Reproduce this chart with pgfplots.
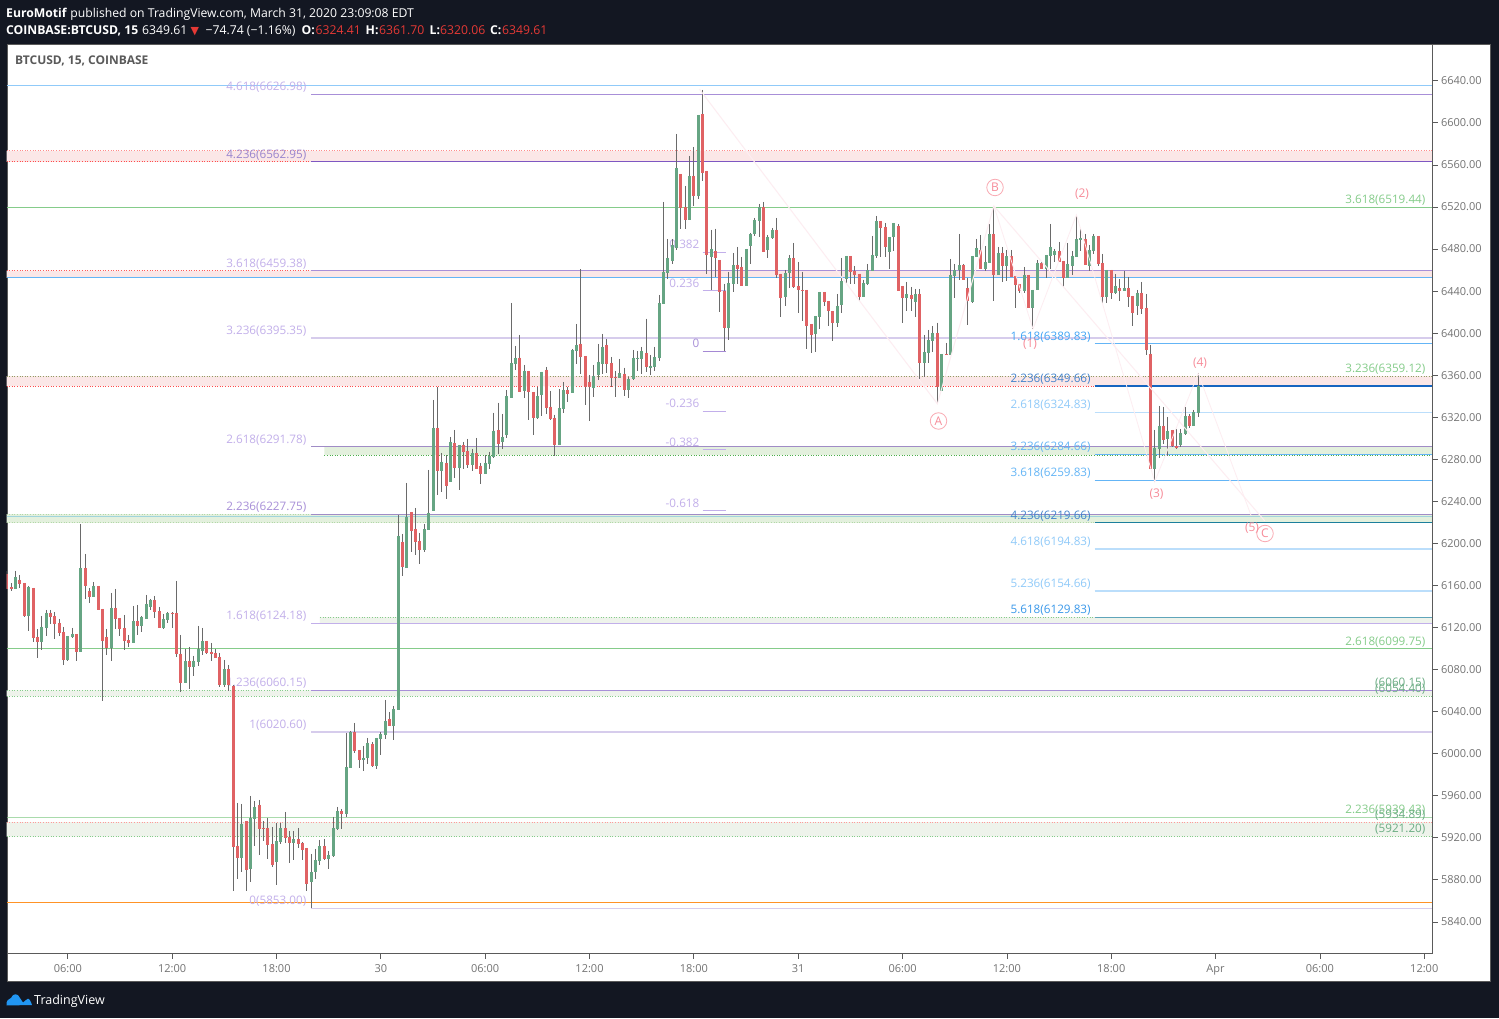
\documentclass[border=0pt]{standalone}
\usepackage{pgfplots}
\usepackage{pgfplotstable}
\usepackage{fontspec}
\pgfplotsset{compat=1.18}
\setmainfont{Open Sans}
\newfontfamily\dvs{DejaVu Sans}
\definecolor{bgd}{HTML}{131722}
\definecolor{cred}{HTML}{E06264}
\definecolor{cgrn}{HTML}{66A583}
\definecolor{wick}{HTML}{6A6A6A}
\definecolor{tick}{HTML}{5A5A5A}
\definecolor{pl}{HTML}{C2AFEA}
\definecolor{pm}{HTML}{A88FD8}
\definecolor{pk}{HTML}{9A85CE}
\definecolor{pd}{HTML}{7E57C2}
\definecolor{pll}{HTML}{D6CCEC}
\definecolor{gl}{HTML}{85CC8A}
\definecolor{gt}{HTML}{B2D8A8}
\definecolor{ol}{HTML}{8F9C62}
\definecolor{bl}{HTML}{64B5F6}
\definecolor{bd}{HTML}{1565C0}
\definecolor{bm}{HTML}{42A5F5}
\definecolor{bll}{HTML}{BBDEFB}
\definecolor{blt}{HTML}{90CAF9}
\definecolor{btl}{HTML}{A0D4DC}
\definecolor{teal2}{HTML}{1B7F9C}
\definecolor{zred}{HTML}{FBE7E7}
\definecolor{zgrn}{HTML}{E3F0DD}
\definecolor{zgl}{HTML}{EEF3EB}
\definecolor{wl}{HTML}{FDEDF1}
\definecolor{wt}{HTML}{F78C99}
\definecolor{upr}{HTML}{E53935}
\definecolor{tvb}{HTML}{2196F3}
\pgfplotstableread{
x o h l c
-86 6170.8 6173.3 6157.1 6157.1
-85 6158.7 6162.2 6154.9 6157.1
-83 6165.4 6170.1 6157.8 6161.6
-82 6162.5 6162.5 6130.2 6131.1
-80 6157.8 6157.8 6106.4 6110.2
-79 6111.2 6118.5 6091.2 6106.4
-76 6134.0 6136.8 6123.5 6130.2
-75 6131.1 6134.9 6109.3 6123.5
-74 6124.5 6128.3 6112.1 6115.0
-73 6115.9 6120.7 6084.5 6089.3
-70 6114.0 6114.0 6088.3 6096.9
-68 6176.8 6190.1 6147.3 6159.7
-67 6154.9 6157.8 6143.5 6149.2
-65 6159.7 6159.7 6136.8 6136.8
-64 6137.8 6137.8 6050.3 6107.4
-63 6111.2 6118.8 6094.0 6100.7
-61 6138.7 6156.8 6118.8 6128.3
-60 6129.2 6129.2 6112.1 6118.8
-59 6119.7 6132.1 6098.8 6107.4
-58 6108.3 6113.0 6101.7 6105.5
-56 6126.4 6141.6 6113.0 6121.6
-52 6146.4 6150.2 6129.2 6134.9
-51 6135.9 6139.7 6119.7 6119.7
-48 6134.0 6134.9 6119.7 6133.0
-47 6134.0 6164.4 6092.1 6095.0
-46 6095.0 6113.0 6058.9 6067.4
-44 6088.3 6101.7 6061.7 6082.6
-40 6107.4 6107.4 6095.0 6096.0
-39 6096.9 6105.5 6088.3 6095.0
-38 6096.0 6099.8 6091.2 6091.2
-37 6092.1 6096.0 6063.6 6065.5
-35 6080.7 6084.5 6059.8 6065.5
-34 6064.5 6065.5 5869.6 5911.7
-33 5912.4 5953.3 5881.0 5901.0
-31 5936.2 5936.2 5869.6 5889.6
-28 5951.4 5956.1 5903.8 5928.6
-27 5929.5 5936.2 5917.1 5928.6
-26 5929.5 5939.0 5900.0 5913.3
-25 5914.3 5930.5 5892.4 5894.3
-22 5929.5 5944.7 5915.2 5920.0
-21 5921.0 5926.6 5896.2 5915.2
-19 5919.0 5929.5 5910.5 5914.3
-18 5915.2 5916.2 5899.0 5908.6
-17 5910.5 5910.5 5869.6 5876.2
-13 5912.4 5919.0 5899.0 5900.0
-9 5945.7 5947.6 5928.6 5942.8
-6 6020.8 6029.4 6000.8 6002.7
-5 6003.7 6003.7 5986.6 5994.2
-2 6009.4 6011.3 5987.5 5988.5
2 6033.2 6039.8 6026.5 6026.5
5 6201.5 6209.1 6169.1 6177.7
7 6230.0 6230.0 6192.0 6212.0
8 6213.9 6233.8 6189.1 6201.5
9 6202.4 6210.0 6180.6 6193.9
13 6310.0 6349.0 6246.3 6269.1
15 6276.7 6284.3 6242.5 6254.8
17 6295.7 6308.1 6262.5 6272.0
19 6293.8 6296.7 6271.0 6287.2
20 6288.1 6299.5 6272.0 6274.8
22 6286.2 6300.5 6271.0 6271.0
23 6273.9 6276.7 6256.7 6266.3
27 6308.1 6333.8 6285.3 6294.8
32 6376.6 6398.4 6344.2 6344.2
34 6364.2 6364.2 6317.6 6344.2
35 6344.2 6344.2 6303.3 6319.5
38 6365.2 6368.0 6323.3 6329.0
39 6330.0 6345.2 6317.6 6318.6
40 6319.5 6322.4 6283.4 6293.8
43 6346.1 6349.0 6334.7 6342.3
46 6389.9 6461.0 6361.4 6377.5
47 6378.5 6378.5 6331.9 6349.0
48 6353.7 6360.4 6316.7 6349.0
52 6388.9 6394.6 6362.3 6370.9
53 6371.8 6377.5 6349.0 6357.6
54 6358.5 6364.2 6339.5 6357.6
56 6361.4 6367.1 6340.4 6346.1
61 6381.3 6413.7 6363.3 6368.0
69 6551.6 6551.6 6499.3 6519.2
70 6520.2 6540.1 6499.3 6507.8
72 6549.7 6577.2 6521.1 6530.6
74 6608.6 6631.4 6544.9 6552.5
75 6554.4 6554.4 6456.5 6474.5
77 6478.3 6499.3 6453.6 6471.7
78 6469.8 6469.8 6420.3 6439.3
79 6440.3 6446.9 6383.2 6405.1
82 6465.0 6482.1 6446.9 6461.2
83 6463.1 6472.6 6445.0 6445.0
88 6520.2 6524.9 6477.4 6477.4
91 6498.3 6509.7 6452.7 6455.5
92 6456.5 6456.5 6415.6 6433.6
95 6471.7 6485.9 6443.1 6444.1
96 6445.0 6467.9 6419.4 6441.2
97 6441.2 6458.4 6411.8 6440.3
98 6441.2 6441.2 6385.1 6407.0
99 6408.9 6408.9 6381.3 6398.4
102 6439.3 6439.3 6426.0 6429.8
103 6430.8 6430.8 6407.0 6421.3
104 6421.3 6421.3 6392.7 6409.9
108 6473.6 6473.6 6446.9 6458.4
109 6459.3 6464.1 6446.9 6455.5
110 6456.5 6456.5 6430.8 6434.6
115 6506.9 6506.9 6472.6 6500.2
116 6501.2 6505.0 6472.6 6482.1
119 6502.1 6504.0 6440.3 6440.3
120 6445.0 6445.0 6409.9 6433.6
122 6436.5 6444.1 6421.3 6432.7
124 6437.4 6442.2 6356.6 6371.8
128 6400.3 6409.9 6332.8 6349.0
130 6380.4 6390.8 6379.4 6379.4
134 6465.0 6466.0 6450.7 6450.7
135 6443.1 6452.6 6407.9 6430.8
138 6479.3 6493.5 6461.2 6461.2
141 6494.5 6520.2 6430.8 6455.5
143 6476.4 6482.1 6448.8 6464.1
145 6473.6 6479.3 6453.6 6453.6
146 6454.6 6454.6 6424.1 6446.0
147 6446.9 6446.9 6438.4 6440.3
149 6455.5 6455.5 6424.1 6424.1
152 6466.9 6468.8 6461.2 6461.2
156 6478.3 6486.9 6467.9 6467.9
157 6468.8 6468.8 6444.1 6452.6
162 6489.7 6494.5 6465.0 6465.0
165 6492.5 6492.5 6464.0 6465.9
166 6466.9 6475.4 6428.8 6434.5
168 6460.2 6460.2 6432.6 6438.3
170 6443.1 6451.6 6430.7 6440.2
172 6443.1 6453.6 6425.0 6434.5
173 6435.5 6435.5 6407.0 6419.3
175 6438.3 6448.8 6418.4 6423.1
176 6424.0 6437.4 6379.4 6384.1
177 6380.3 6388.9 6271.0 6271.0
180 6311.9 6329.9 6294.7 6298.5
182 6308.0 6308.0 6291.9 6292.8
183 6292.8 6309.0 6290.0 6290.9
186 6321.4 6323.3 6310.0 6311.9
}\Rtab
\pgfplotstableread{
x o h l c
-84 6156.8 6173.9 6156.8 6168.2
-81 6131.1 6159.7 6116.9 6158.7
-78 6106.4 6131.1 6098.8 6120.7
-77 6119.7 6136.8 6112.1 6134.0
-72 6089.3 6112.1 6088.3 6112.1
-71 6111.2 6119.7 6110.2 6114.0
-69 6096.9 6218.6 6096.9 6176.8
-66 6149.2 6163.5 6149.2 6159.7
-62 6100.7 6153.0 6088.3 6138.7
-57 6105.5 6140.6 6105.5 6126.4
-55 6121.6 6131.1 6115.9 6130.2
-54 6128.3 6151.1 6128.3 6142.5
-53 6139.7 6147.3 6136.8 6146.4
-50 6119.7 6133.0 6118.8 6128.3
-49 6127.3 6134.9 6124.5 6134.0
-45 6067.4 6099.8 6067.4 6088.3
-43 6082.6 6093.1 6074.1 6088.3
-42 6087.4 6121.6 6083.6 6099.8
-41 6097.9 6119.7 6094.0 6107.4
-36 6065.5 6089.3 6063.6 6080.7
-32 5901.0 5952.3 5887.7 5933.3
-30 5890.5 5959.9 5878.2 5939.0
-29 5938.0 5955.2 5912.4 5949.5
-24 5897.2 5934.3 5875.3 5917.1
-23 5916.2 5934.3 5914.3 5929.5
-20 5915.2 5926.6 5899.0 5919.0
-16 5878.2 5904.8 5853.0 5887.7
-15 5887.7 5909.5 5881.0 5899.0
-14 5898.1 5918.1 5894.3 5912.4
-12 5900.0 5907.6 5890.5 5903.8
-11 5902.9 5940.0 5901.9 5929.5
-10 5928.6 5949.5 5927.6 5945.7
-8 5942.8 6019.8 5940.0 5987.5
-7 5986.6 6021.8 5986.6 6020.8
-4 5994.2 6007.5 5983.7 5996.1
-3 5996.1 6015.1 5990.4 6010.3
-1 5988.5 6015.1 5985.6 6015.1
0 6014.1 6020.8 5998.9 6018.9
1 6017.9 6051.2 6014.1 6031.3
3 6026.5 6045.5 6013.2 6042.7
4 6041.7 6227.2 6041.7 6207.2
6 6176.8 6257.7 6176.8 6225.3
10 6193.9 6218.6 6192.0 6213.9
11 6212.9 6270.0 6212.9 6229.0
12 6231.0 6336.6 6231.0 6310.0
14 6269.1 6286.2 6249.1 6277.7
16 6258.7 6301.4 6258.7 6296.7
18 6272.0 6293.8 6251.0 6293.8
21 6274.8 6290.0 6269.1 6286.2
24 6266.3 6284.3 6266.3 6276.7
25 6275.8 6287.2 6271.0 6283.4
26 6282.4 6324.3 6281.5 6307.2
28 6296.7 6323.3 6290.0 6301.4
29 6303.3 6346.1 6300.5 6340.4
30 6338.5 6428.9 6338.5 6371.8
31 6370.9 6388.0 6365.2 6376.6
33 6345.2 6369.9 6338.5 6364.2
36 6319.5 6349.0 6318.6 6340.4
37 6341.4 6363.3 6321.4 6363.3
41 6293.8 6347.1 6293.8 6329.0
42 6328.0 6353.7 6324.3 6346.1
44 6343.3 6385.1 6343.3 6384.2
45 6383.2 6408.9 6370.9 6388.9
49 6348.0 6369.9 6339.5 6359.5
50 6360.4 6389.9 6355.7 6372.8
51 6370.9 6399.4 6361.4 6387.0
55 6357.6 6375.6 6357.6 6362.3
57 6346.1 6358.5 6338.5 6356.6
58 6356.6 6384.2 6355.6 6376.6
59 6375.6 6383.2 6364.2 6376.6
60 6375.6 6387.0 6361.4 6383.2
62 6367.1 6379.4 6360.4 6369.0
63 6368.0 6387.0 6364.2 6377.5
64 6376.6 6436.5 6373.7 6428.9
65 6427.9 6524.9 6427.9 6458.4
66 6457.4 6489.7 6451.7 6471.7
67 6468.8 6489.7 6466.0 6484.0
68 6481.2 6589.6 6479.3 6557.3
71 6507.8 6568.7 6507.8 6549.7
73 6530.6 6607.7 6527.8 6607.7
76 6472.6 6498.3 6441.2 6480.2
80 6405.1 6458.4 6393.7 6447.9
81 6446.9 6476.4 6439.3 6465.0
84 6445.0 6480.2 6445.0 6480.2
85 6483.1 6495.4 6466.0 6494.5
86 6494.5 6509.7 6492.6 6507.8
87 6506.9 6523.0 6491.6 6520.2
89 6479.3 6493.5 6471.7 6491.6
90 6490.7 6500.2 6489.7 6498.3
93 6434.6 6460.3 6426.0 6457.4
94 6457.4 6474.5 6443.1 6471.7
100 6399.4 6416.5 6382.3 6416.5
101 6415.6 6439.3 6404.2 6439.3
105 6409.9 6437.4 6406.0 6426.0
106 6427.0 6471.7 6419.4 6449.8
107 6451.7 6473.6 6446.9 6473.6
111 6434.6 6450.8 6434.6 6447.9
112 6446.9 6466.0 6446.0 6460.3
113 6459.3 6492.6 6459.3 6474.5
114 6473.6 6511.6 6471.7 6506.9
117 6477.4 6491.6 6461.2 6491.6
118 6491.6 6505.0 6478.3 6505.0
121 6433.6 6448.8 6421.3 6437.4
123 6429.8 6442.2 6415.6 6437.4
125 6371.8 6398.4 6358.5 6382.3
126 6381.3 6403.2 6371.8 6393.7
127 6392.7 6407.0 6382.3 6400.3
129 6345.2 6380.4 6345.2 6380.4
131 6379.4 6470.7 6379.4 6455.5
132 6454.6 6466.0 6433.6 6460.3
133 6460.3 6494.5 6450.7 6465.0
136 6429.8 6473.6 6428.9 6473.6
137 6472.6 6489.7 6472.6 6481.2
139 6461.2 6483.1 6459.3 6467.9
140 6466.9 6504.0 6466.9 6494.5
142 6455.5 6482.1 6455.5 6476.4
144 6464.1 6479.3 6449.8 6473.6
148 6440.3 6463.1 6438.4 6455.5
150 6424.1 6441.2 6404.0 6441.2
151 6441.2 6469.8 6441.2 6466.9
153 6461.2 6474.5 6452.6 6474.5
154 6473.6 6504.0 6461.2 6482.1
155 6474.5 6480.2 6467.9 6478.3
158 6452.6 6485.9 6452.6 6466.0
159 6464.1 6478.3 6455.5 6473.6
160 6472.6 6512.6 6472.6 6489.7
161 6488.8 6500.2 6478.3 6490.7
163 6464.0 6484.0 6459.3 6479.2
164 6478.3 6494.4 6475.4 6492.5
167 6434.5 6460.2 6428.8 6460.2
169 6438.3 6456.4 6437.4 6445.0
171 6440.2 6459.3 6440.2 6443.1
174 6426.0 6441.2 6417.4 6438.3
178 6271.0 6308.0 6258.6 6290.9
179 6290.0 6330.9 6281.4 6311.9
181 6299.5 6320.4 6283.3 6307.1
184 6293.8 6309.0 6291.9 6305.2
185 6304.3 6329.9 6303.3 6321.4
187 6311.9 6327.1 6311.9 6325.2
188 6324.41 6361.70 6320.06 6349.61
}\Gtab
\tikzset{dt/.style={dash pattern=on 1pt off 1.6pt}}
\newcommand\hl[4][]{\addplot[#2,line width=1pt,#1] coordinates {(#3,#4)(241.9,#4)};}
\newcommand\zone[5]{\addplot[draw=none,fill=#1] coordinates {(#2,#3)(#4,#3)(#4,#5)(#2,#5)(#2,#3)};}
\newcommand\lab[4]{\node[anchor=east,inner sep=0pt,text=#1,font=\fontsize{11.7}{13}\selectfont] at (axis cs:#2,#3) {#4};}
\begin{document}
\begin{tikzpicture}[x=1pt,y=1pt]
\fill[bgd] (0,0) rectangle (1499,1018);
\fill[white,draw=tick,line width=0.8pt] (7,37) rectangle (1490,974);
\begin{axis}[
  at={(15,61)},anchor=south west,scale only axis,width=1426pt,height=909pt,
  xmin=-86.1,xmax=241.9,ymin=5809.6,ymax=6674.2,
  axis line style={draw=none},
  xtick={-72,-48,-24,0,24,48,72,96,120,144,168,192,216,240},
  xticklabels={06:00,12:00,18:00,30,06:00,12:00,18:00,31,06:00,12:00,18:00,Apr,06:00,12:00},
  ytick={5840,5880,...,6640},
  xtick pos=bottom,ytick pos=right,yticklabel pos=right,
  tick align=outside,major tick length=5pt,
  tick style={color=tick,line width=0.8pt},
  ticklabel style={font=\fontsize{11}{13}\selectfont,text=tick!85!white},
  xticklabel style={yshift=-2pt},
  yticklabel style={/pgf/number format/.cd,fixed,fixed zerofill,precision=2,1000 sep={},assume math mode=true},
  clip mode=individual,
  every axis plot/.append style={mark=none},
]
% zones
\zone{zred}{-86.1}{6573.4}{241.9}{6562.95}
\zone{zred}{-86.1}{6459.38}{241.9}{6452.6}
\zone{zred}{-86.1}{6359.12}{241.9}{6349.66}
\zone{zgrn}{-13}{6291.78}{241.9}{6284}
\zone{zgrn}{-86.1}{6227.75}{241.9}{6219.66}
\zone{zgl}{-14}{6129.83}{241.9}{6124.18}
\zone{zgl}{-86.1}{6060.15}{241.9}{6054.40}
\zone{zgl}{-86.1}{5934.89}{241.9}{5921.20}
% dotted edges of zones
\hl[dt]{red!45}{-86.1}{6573.4}
\hl[dt]{red!70}{-86.1}{6562.95}
\hl[dt]{red!65}{-86.1}{6459.38}
\hl[dt]{red!70}{-86.1}{6349.66}
\hl[dt]{ol}{-86.1}{6359.12}
\hl[dt]{green!55!black!70}{-13}{6284}
\hl[dt]{gt}{-86.1}{6227.75}
\hl[dt]{gt}{-86.1}{6219.66}
\hl[dt]{gl}{-14}{6129.83}
\hl[dt]{gl}{-86.1}{6060.15}
\hl[dt]{gl}{-86.1}{6054.40}
\hl[dt]{red!40}{-86.1}{5934.89}
\hl[dt]{gl}{-86.1}{5921.20}
% full width lines
\hl{blt}{-86.1}{6635.6}
\hl{gl}{-86.1}{6519.44}
\hl{bl}{-86.1}{6452.6}
\hl{gl}{-86.1}{6099.75}
\hl[opacity=0.7]{gl}{-86.1}{5939.43}
\hl{orange!85!white}{-86.1}{5858.0}
% purple extension
\hl{pm}{-16}{6626.98}
\hl{pd}{-16}{6562.95}
\hl{pm}{-16}{6459.38}
\hl[line width=1.3pt]{pll}{-16}{6395.35}
\hl{pm!80!gray}{-16}{6291.78}
\hl{btl}{-86.1}{6225.7}
\hl{pm!80!gray}{-16}{6227.75}
\hl{pl}{-16}{6124.18}
\hl{pm}{-16}{6060.15}
\hl[line width=1.3pt]{pll}{-16}{6020.60}
\hl[line width=1.3pt]{pll}{-16}{5853.00}
% blue extension
\hl{bl}{164.2}{6389.83}
\hl[line width=1.3pt]{bd}{164.2}{6349.66}
\hl[line width=1.3pt]{bll}{164.2}{6324.83}
\hl{bl}{164.2}{6284.66}
\hl{bl}{164.2}{6259.83}
\hl{teal2}{164.2}{6219.66}
\hl[line width=1.3pt]{bll}{164.2}{6194.83}
\hl[line width=1.3pt]{bll}{164.2}{6154.66}
\hl[line width=1.3pt]{teal2!70!white}{164.2}{6129.83}
% retracement stubs
\addplot[pd!70!white,line width=1pt] coordinates {(74,6383)(79.3,6383)};
\addplot[pl,line width=1pt] coordinates {(74,6441)(79.3,6441)};
\addplot[pl,line width=1pt] coordinates {(74,6477)(79.3,6477)};
\addplot[pl,line width=1pt] coordinates {(74,6325.6)(79.3,6325.6)};
\addplot[pl,line width=1pt] coordinates {(74,6289)(79.3,6289)};
\addplot[pl,line width=1pt] coordinates {(74,6231)(79.3,6231)};
% purple labels
\lab{pl}{-17.1}{6633.7}{4.618(6626.98)}
\lab{pk}{-17.1}{6569.6}{4.236(6562.95)}
\lab{pl}{-17.1}{6466}{3.618(6459.38)}
\lab{pl}{-17.1}{6402}{3.236(6395.35)}
\lab{pl}{-17.1}{6298.4}{2.618(6291.78)}
\lab{pm}{-17.1}{6234.4}{2.236(6227.75)}
\lab{pl}{-17.1}{6130.8}{1.618(6124.18)}
\lab{pl}{-17.1}{6066.8}{1.236(6060.15)}
\lab{pl}{-17.1}{6027.2}{1(6020.60)}
\lab{pl}{-17.1}{5859.6}{0(5853.00)}
% retracement labels
\lab{pl}{73.3}{6484.6}{0.382}
\lab{pl}{73.3}{6447.5}{0.236}
\lab{pm}{73.3}{6390}{0}
\lab{pl}{73.3}{6333.2}{-0.236}
\lab{pl}{73.3}{6296}{-0.382}
\lab{pl}{73.3}{6238}{-0.618}
% blue labels
\lab{bm}{163.3}{6396.5}{1.618(6389.83)}
\lab{bd!80!white}{163.3}{6356.3}{2.236(6349.66)}
\lab{blt}{163.3}{6331.5}{2.618(6324.83)}
\lab{bl}{163.3}{6291.3}{3.236(6284.66)}
\lab{bl}{163.3}{6266.5}{3.618(6259.83)}
\lab{bd!80!white}{163.3}{6226.3}{4.236(6219.66)}
\lab{blt}{163.3}{6201.5}{4.618(6194.83)}
\lab{blt}{163.3}{6161.3}{5.236(6154.66)}
\lab{bm!80!bd}{163.3}{6136.5}{5.618(6129.83)}
% green labels
\lab{gl}{240.3}{6526.1}{3.618(6519.44)}
\lab{gl}{240.3}{6365.8}{3.236(6359.12)}
\lab{gl}{240.3}{6106.4}{2.618(6099.75)}
\lab{cgrn!80!gl}{240.3}{6066.8}{(6060.15)}
\lab{cgrn!80!gl}{240.3}{6061.1}{(6054.40)}
\lab{gl}{240.3}{5946.1}{2.236(5939.43)}
\lab{cgrn!80!gl}{240.3}{5941.6}{(5934.89)}
\lab{cgrn!80!gl}{240.3}{5927.9}{(5921.20)}
% wicks
\addplot[draw=none,error bars/.cd,y dir=minus,y explicit,error mark=none,error bar style={draw=wick,solid,line width=1pt}]
  table[x=x,y=h,y error minus expr=\thisrow{h}-\thisrow{l}]{\Rtab};
\addplot[draw=none,error bars/.cd,y dir=minus,y explicit,error mark=none,error bar style={draw=wick,solid,line width=1pt}]
  table[x=x,y=h,y error minus expr=\thisrow{h}-\thisrow{l}]{\Gtab};
% bodies
\addplot[draw=none,error bars/.cd,y dir=minus,y explicit,error mark=none,error bar style={draw=cred,solid,line width=3pt}]
  table[x=x,y=o,y error minus expr=\thisrow{o}-\thisrow{c}]{\Rtab};
\addplot[draw=none,error bars/.cd,y dir=minus,y explicit,error mark=none,error bar style={draw=cgrn,solid,line width=3pt}]
  table[x=x,y=c,y error minus expr=\thisrow{c}-\thisrow{o}]{\Gtab};
% wave lines
\addplot[wl,line width=1pt] coordinates {(73.3,6632)(128,6332.8)(141,6521)(203.3,6221.5)};
\addplot[wl,line width=0.8pt] coordinates {(141,6521)(150,6404)(160,6512.6)(178,6258.6)(188,6361.7)(200.2,6226.2)};
% axis borders
\draw[tick,line width=0.9pt] (rel axis cs:0,0)--(rel axis cs:1,0)--(rel axis cs:1,1);
\end{axis}
% wave labels
\tikzset{wv/.style={text=wt,font=\fontsize{12}{13}\selectfont,inner sep=0pt},
 cw/.style={draw=wt!75!white,circle,text=wt,font=\fontsize{12}{13}\selectfont,minimum size=16.5pt,inner sep=0pt,line width=0.8pt}}
\node[cw] at (938.5,1018-421) {A};
\node[cw] at (995,1018-187.5) {B};
\node[cw] at (1265,1018-533.5) {C};
\node[wv] at (1030,1018-344) {(1)};
\node[wv] at (1082,1018-194) {(2)};
\node[wv] at (1156.5,1018-494) {(3)};
\node[wv] at (1200,1018-363) {(4)};
\node[wv] at (1252,1018-528) {(5)};
% header
\tikzset{hd/.style={anchor=base west,inner sep=0pt,text=white,font=\fontsize{12.2}{13}\selectfont}}
\node[hd] at (6,1018-17.5) {\textbf{EuroMotif} published on TradingView.com, March 31, 2020 23:09:08 EDT};
\node[hd] at (6,1018-34.5) {\textbf{COINBASE:BTCUSD, 15}};
\node[hd] at (142,1018-34.5) {6349.61};
\node[hd,text=upr] at (190.5,1018-34.5) {\dvs\fontsize{11}{12}\selectfont ▼};
\node[hd] at (205.5,1018-34.5) {−74.74 (−1.16\%)};
\node[hd] at (301.5,1018-34.5) {\textbf{O:}};
\node[hd,text=upr] at (315.5,1018-34.5) {6324.41};
\node[hd] at (365.5,1018-34.5) {\textbf{H:}};
\node[hd,text=upr] at (379,1018-34.5) {6361.70};
\node[hd] at (429.5,1018-34.5) {\textbf{L:}};
\node[hd,text=upr] at (440,1018-34.5) {6320.06};
\node[hd] at (490,1018-34.5) {\textbf{C:}};
\node[hd,text=upr] at (502,1018-34.5) {6349.61};
\node[hd,text=tick,font=\fontsize{12}{13}\selectfont\bfseries] at (15,1018-64.5) {BTCUSD, 15, COINBASE};
% footer
\fill[tvb] (6.5,12.5) .. controls (6,18) and (9,19) .. (11,20) .. controls (13,25) and (18,25) .. (20,20) -- (23,15.5) -- (26,18) .. controls (29,22) and (31,16) .. (32,13) -- cycle;
\node[anchor=base west,inner sep=0pt,text=white,font=\fontsize{12.5}{14}\selectfont] at (34,1018-1004) {TradingView};
\end{tikzpicture}
\end{document}
